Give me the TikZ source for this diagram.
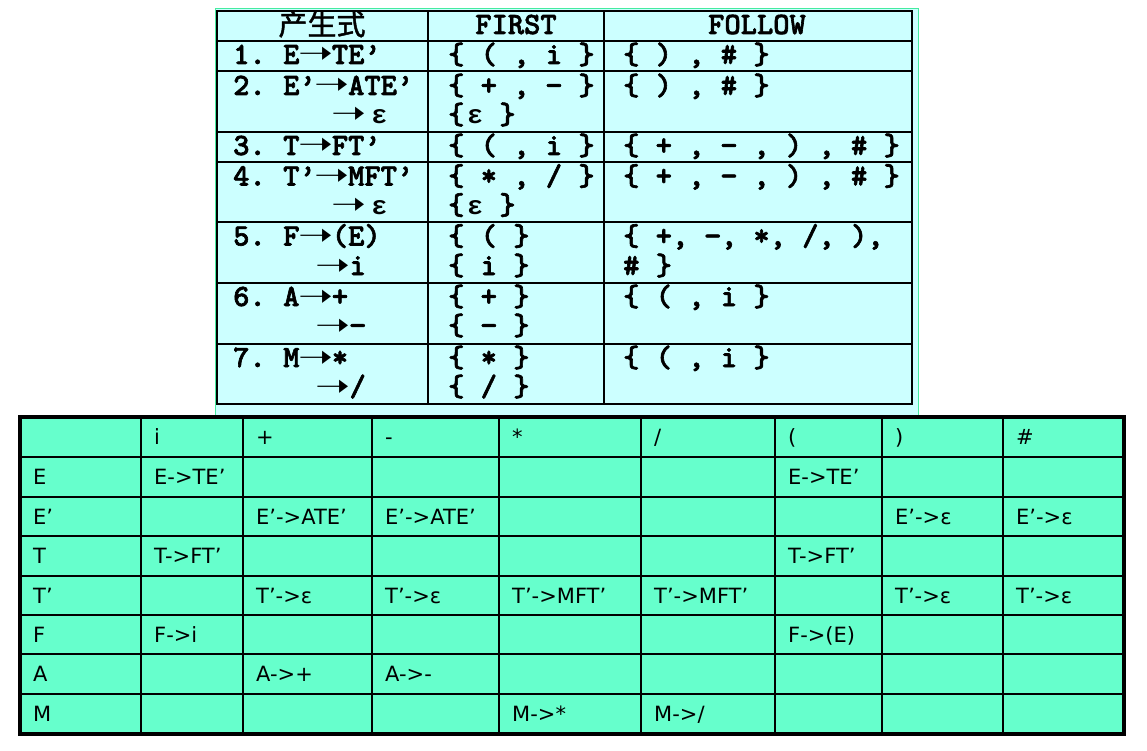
\documentclass[tikz,border=0pt]{standalone}
\usepackage{fontspec}
\usepackage{graphicx}
\setmainfont{DejaVu Sans}
\newfontfamily\monob{lmmonolt10-bold}[Extension=.otf, FakeBold=2]
\newfontfamily\gkf{Liberation Mono}
\newfontfamily\arrf{DejaVu Sans}
\newfontfamily\cjk{Noto Sans CJK SC}[FakeBold=1.5]
\newfontfamily\lowf{DejaVu Sans}
\definecolor{ucyan}{RGB}{204,255,255}
\definecolor{ugreen}{RGB}{70,235,160}
\definecolor{lowfill}{RGB}{102,255,204}
\newcommand\arrw{\makebox[32.4pt][c]{\arrf\scalebox{1.35}[1]{➝}}}
\newcommand\eps{{\gkf\bfseries\fontsize{26}{30}\selectfont ε}}
\tikzset{
  ut/.style={anchor=base west, inner sep=0pt, font=\monob\fontsize{31}{34}\selectfont},
  uh/.style={anchor=base, inner sep=0pt, font=\monob\fontsize{31}{34}\selectfont},
  lt/.style={anchor=base west, inner sep=0pt, font=\lowf\fontsize{21}{24}\selectfont},
  uline/.style={line width=2pt, black},
  lline/.style={line width=2pt, black},
}
\begin{document}
\begin{tikzpicture}[x=1pt,y=-1pt]
\useasboundingbox (0,0) rectangle (1147,751);
% ---------- upper table ----------
\filldraw[fill=ucyan, draw=ugreen, line width=1.5pt] (215.5,8.5) rectangle (918.5,420);
\draw[uline] (217,11) rectangle (911.5,404);
\foreach \x in {428,603.5} \draw[uline] (\x,11) -- (\x,404);
\foreach \y in {41.5,71.5,132,162.5,222.5,283,344} \draw[uline] (217,\y) -- (911.5,\y);
% header
\node[anchor=base, inner sep=0pt, font=\cjk\fontsize{29}{32}\selectfont] (hP) at (322,35) {产生式};
\node[uh] (hF) at (516,34) {FIRST};
\node[uh] (hW) at (757,34) {FOLLOW};
% row 1
\node[ut] (n1) at (233,64) {1.};
\node[ut] (p1) at (283,64) {E\arrw TE’};
\node[ut] (f1) at (448,64) {\{ ( , i \}};
\node[ut] (w1) at (623,64) {\{ ) , \# \}};
% row 2
\node[ut] (n2) at (233,95) {2.};
\node[ut] (p2) at (283,95) {E’\arrw ATE’};
\node[ut] (f2) at (448,95) {\{ + , − \}};
\node[ut] (w2) at (623,95) {\{ ) , \# \}};
\node[ut] (p2b) at (333,124) {\arrw\hspace{6pt}\eps};
\node[ut] (f2b) at (448,124) {\{\hspace{3pt}\eps{} \}};
% row 3
\node[ut] (n3) at (233,155) {3.};
\node[ut] (p3) at (283,155) {T\arrw FT’};
\node[ut] (f3) at (448,155) {\{ ( , i \}};
\node[ut] (w3) at (623,155) {\{ + , − , ) , \# \}};
% row 4
\node[ut] (n4) at (233,185.5) {4.};
\node[ut] (p4) at (283,185.5) {T’\arrw MFT’};
\node[ut] (f4) at (448,185.5) {\{ * , / \}};
\node[ut] (w4) at (623,185.5) {\{ + , − , ) , \# \}};
\node[ut] (p4b) at (333,214.5) {\arrw\hspace{6pt}\eps};
\node[ut] (f4b) at (448,214.5) {\{\hspace{3pt}\eps{} \}};
% row 5
\node[ut] (n5) at (233,245.5) {5.};
\node[ut] (p5) at (283,245.5) {F\arrw(E)};
\node[ut] (f5) at (448,245.5) {\{ ( \}};
\node[ut] (w5) at (623,245.5) {\{ +, −, *, /, ),};
\node[ut] (p5b) at (317,275) {\arrw i};
\node[ut] (f5b) at (448,275) {\{ i \}};
\node[ut] (w5b) at (623,275) {\# \}};
% row 6
\node[ut] (n6) at (233,306) {6.};
\node[ut] (p6) at (283,306) {A\arrw+};
\node[ut] (f6) at (448,306) {\{ + \}};
\node[ut] (w6) at (623,306) {\{ ( , i \}};
\node[ut] (p6b) at (317,335) {\arrw−};
\node[ut] (f6b) at (448,335) {\{ − \}};
% row 7
\node[ut] (n7) at (233,367) {7.};
\node[ut] (p7) at (283,367) {M\arrw*};
\node[ut] (f7) at (448,367) {\{ * \}};
\node[ut] (w7) at (623,367) {\{ ( , i \}};
\node[ut] (p7b) at (317,396) {\arrw/};
\node[ut] (f7b) at (448,396) {\{ / \}};
% ---------- lower table ----------
\fill[lowfill] (20,417) rectangle (1124,734);
\foreach \x in {141,243,372,499,641,775,882,1003} \draw[lline] (\x,417) -- (\x,734);
\foreach \y in {457,497,536,576,615,654,694} \draw[lline] (20,\y) -- (1124,\y);
\draw[line width=3.5pt] (20,417) rectangle (1124,734);
% header row
\node[lt] (ci) at (154,444) {i};
\node[lt] (cplus) at (256,444) {+};
\node[lt] (cminus) at (385,444) {-};
\node[lt] (cstar) at (512,444) {*};
\node[lt] (cslash) at (654,444) {/};
\node[lt] (clp) at (788,444) {(};
\node[lt] (crp) at (895,444) {)};
\node[lt] (chash) at (1016,444) {\#};
% E
\node[lt] (rE) at (33,484) {E};
\node[lt] (rE1) at (154,484) {E->TE’};
\node[lt] (rE2) at (788,484) {E->TE’};
% E'
\node[lt] (rEp) at (33,524) {E’};
\node[lt] (rEp1) at (256,524) {E’->ATE’};
\node[lt] (rEp2) at (385,524) {E’->ATE’};
\node[lt] (rEp3) at (895,524) {E’->ε};
\node[lt] (rEp4) at (1016,524) {E’->ε};
% T
\node[lt] (rT) at (33,563) {T};
\node[lt] (rT1) at (154,563) {T->FT’};
\node[lt] (rT2) at (788,563) {T->FT’};
% T'
\node[lt] (rTp) at (33,603) {T’};
\node[lt] (rTp1) at (256,603) {T’->ε};
\node[lt] (rTp2) at (385,603) {T’->ε};
\node[lt] (rTp3) at (512,603) {T’->MFT’};
\node[lt] (rTp4) at (654,603) {T’->MFT’};
\node[lt] (rTp5) at (895,603) {T’->ε};
\node[lt] (rTp6) at (1016,603) {T’->ε};
% F
\node[lt] (rF) at (33,642) {F};
\node[lt] (rF1) at (154,642) {F->i};
\node[lt] (rF2) at (788,642) {F->(E)};
% A
\node[lt] (rA) at (33,681) {A};
\node[lt] (rA1) at (256,681) {A->+};
\node[lt] (rA2) at (385,681) {A->-};
% M
\node[lt] (rM) at (33,721) {M};
\node[lt] (rM1) at (512,721) {M->*};
\node[lt] (rM2) at (654,721) {M->/};
\end{tikzpicture}
\end{document}
